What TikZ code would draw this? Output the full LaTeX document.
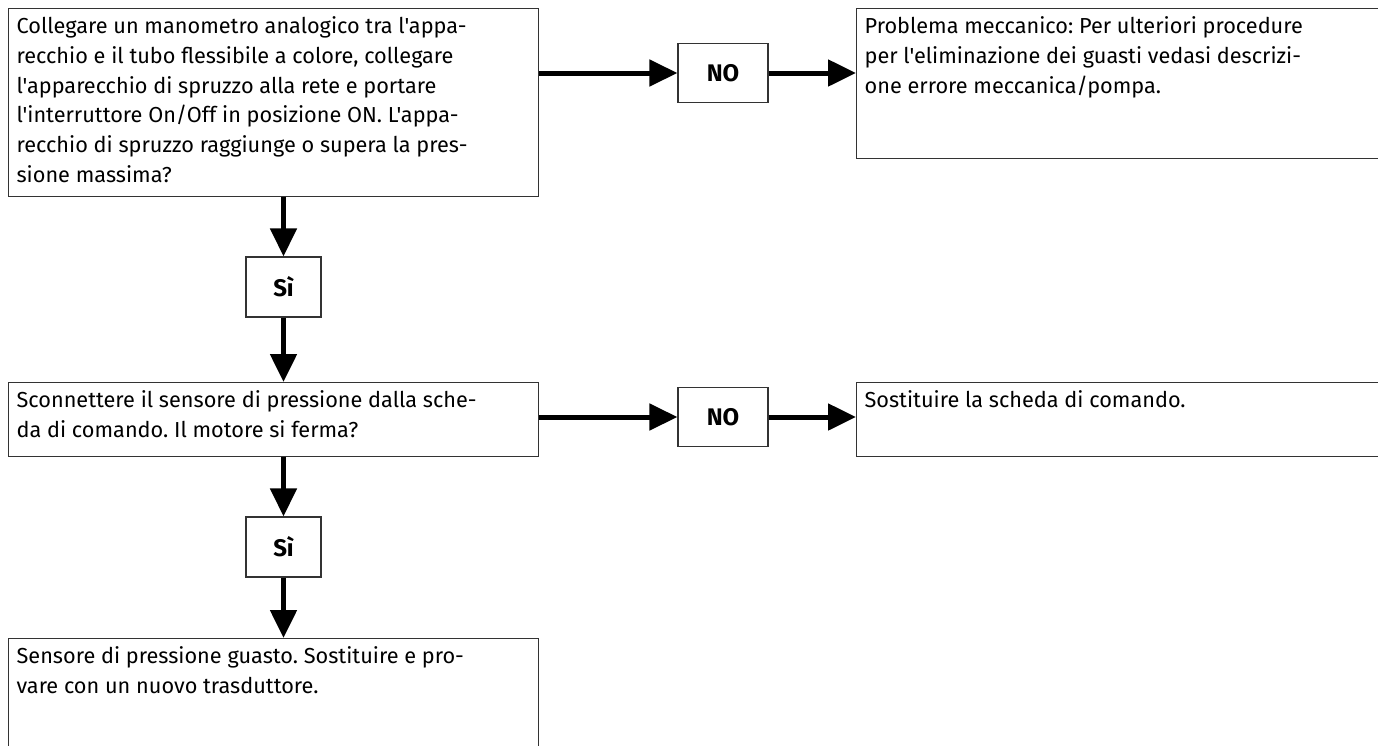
\documentclass[tikz,border=0pt]{standalone}
\usepackage{fontspec}
\setmainfont{Fira Sans}[Ligatures=TeXOff]
\usetikzlibrary{arrows.meta, positioning}

\newcommand{\boxtext}[3]{\parbox[t][#1][t]{#2}{\raggedright\frenchspacing #3}}

\tikzset{
  stepbox/.style={draw=black!80, line width=1.2pt, rectangle, anchor=north west,
    inner xsep=8pt, inner ysep=8pt,
    font=\fontsize{21.7}{29.8}\selectfont},
  answer/.style={draw=black!80, line width=1.2pt, rectangle, minimum width=90pt,
    minimum height=59pt, inner sep=0pt, font=\fontsize{24}{26}\selectfont\bfseries},
  flow/.style={line width=5pt, -{Triangle[length=28pt,width=26pt]}}
}

\begin{document}
\begin{tikzpicture}[x=1pt, y=-1pt]
  \useasboundingbox (0,0) rectangle (1378,745);

  % first question
  \node[stepbox] (qPressure) at (8,8)
    {\boxtext{172pt}{514pt}{Collegare un manometro analogico tra l'appa-\\
     recchio e il tubo flessibile a colore, collegare\\
     l'apparecchio di spruzzo alla rete e portare\\
     l'interruttore On/Off in posizione ON. L'appa-\\
     recchio di spruzzo raggiunge o supera la pres-\\
     sione massima?}};
  \node[answer] (noMech) at (723,73) {NO};
  \node[stepbox] (resMech) at (856,8)
    {\boxtext{134pt}{526pt}{Problema meccanico: Per ulteriori procedure\\
     per l'eliminazione dei guasti vedasi descrizi-\\
     one errore meccanica/pompa.}};

  \node[answer, minimum width=75pt, minimum height=60pt] (siOne) at (283.5,287) {Sì};

  % second question
  \node[stepbox] (qSensor) at (8,382)
    {\boxtext{58pt}{514pt}{Sconnettere il sensore di pressione dalla sche-\\
     da di comando. Il motore si ferma?}};
  \node[answer] (noBoard) at (723,417) {NO};
  \node[stepbox] (resBoard) at (856,382)
    {\boxtext{58pt}{526pt}{Sostituire la scheda di comando.}};

  \node[answer, minimum width=75pt, minimum height=60pt] (siTwo) at (283.5,547) {Sì};

  \node[stepbox] (resSensor) at (8,638)
    {\boxtext{110pt}{514pt}{Sensore di pressione guasto. Sostituire e pro-\\
     vare con un nuovo trasduttore.}};

  % connectors
  \draw[flow] (noMech.west -| qPressure.east) -- (noMech.west);
  \draw[flow] (noMech.east) -- (noMech.east -| resMech.west);
  \draw[flow] (siOne.north |- qPressure.south) -- (siOne.north);
  \draw[flow] (siOne.south) -- (siOne.south |- qSensor.north);
  \draw[flow] (noBoard.west -| qSensor.east) -- (noBoard.west);
  \draw[flow] (noBoard.east) -- (noBoard.east -| resBoard.west);
  \draw[flow] (siTwo.north |- qSensor.south) -- (siTwo.north);
  \draw[flow] (siTwo.south) -- (siTwo.south |- resSensor.north);
\end{tikzpicture}
\end{document}
